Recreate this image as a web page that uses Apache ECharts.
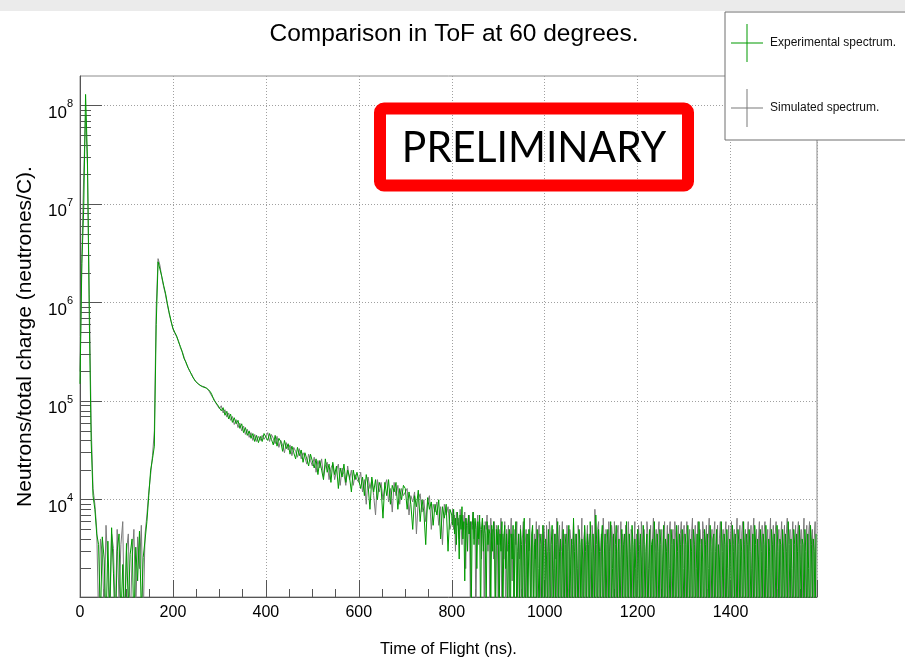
<!DOCTYPE html>
<html><head><meta charset="utf-8">
<script src="https://cdn.jsdelivr.net/npm/echarts@6/dist/echarts.min.js"></script>
<style>html,body{margin:0;padding:0;background:#fff}#c{width:905px;height:659px}</style>
</head><body><div id="c"></div>
<script>
// ---- data: time of flight (ns). Main part: 4 ns bins from 0; tail: 2 ns bins from 800 ----
const mainStart = 0, mainBin = 4, tailStart = 800, tailBin = 2;
const titleText = 'Comparison in ToF at 60 degrees.';
const xTitle = 'Time of Flight (ns).';
const yTitle = 'Neutrons/total charge (neutrones/C).';
const seriesNames = ['Experimental spectrum.', 'Simulated spectrum.'];
const xTickLabels = [0, 200, 400, 600, 800, 1000, 1200, 1400];
const yMajorTicks = [1e4, 1e5, 1e6, 1e7, 1e8];
const yMin = 1030, yMax = 2.0e8, xMin = 0, xMax = 1586;

const experimentalMain = [
1.5e5,2.5e6,9e6,1.3e8,3e7,7e5,4e4,1.1e4,8e3,4.5e3,3500,600,4200,2500,500,3800,700,5200,1800,400,3000,4500,600,2200,500,
3600,800,2800,4000,500,3300,1500,4800,700,2600,3900,6e3,1.1e4,2e4,2.6e4,3.5e4,6e5,2.6e6,2.5e6,1.85e6,1.5e6,1.25e6,9.8e5,7.9e5,6.5e5,
5.5e5,5.0e5,4.6e5,4.0e5,3.6e5,3.15e5,2.7e5,2.5e5,2.2e5,2.05e5,1.85e5,1.78e5,1.6e5,1.57e5,1.48e5,1.46e5,1.4e5,1.45e5,1.36e5,1.35e5,1.26e5,1.16e5,1.03e5,9.9e4,9.2e4,
9.5e4,8.0e4,8.6e4,7.2e4,7.9e4,6.6e4,7.4e4,6.1e4,6.8e4,5.9e4,6.4e4,5.3e4,5.9e4,4.8e4,5.4e4,4.5e4,5.0e4,4.2e4,4.7e4,3.9e4,4.5e4,3.8e4,4.4e4,3.9e4,4.7e4,
4.9e4,4.0e4,4.7e4,4.1e4,3.6e4,4.5e4,3.5e4,4.2e4,3.9e4,3.1e4,4.0e4,3.3e4,3.7e4,2.9e4,3.5e4,3.0e4,2.6e4,3.4e4,2.8e4,3.2e4,2.4e4,3.0e4,2.6e4,2.2e4,2.9e4,
2.8e4,2.1e4,2.6e4,1.8e4,2.5e4,2.0e4,1.6e4,2.6e4,1.9e4,2.3e4,1.5e4,2.4e4,1.8e4,2.2e4,1.3e4,2.1e4,1.7e4,2.3e4,1.5e4,2.0e4,1.7e4,1.2e4,2.0e4,1.6e4,1.9e4,
1.9e4,1.3e4,1.7e4,1.1e4,1.8e4,1.4e4,8e3,1.7e4,1.2e4,1.6e4,1.0e4,1.5e4,1.3e4,6.5e3,1.5e4,1.1e4,1.6e4,9e3,1.4e4,1.2e4,1.5e4,8e3,1.3e4,1.0e4,1.4e4,
1.3e4,8e3,1.2e4,9e3,5e3,1.1e4,8.5e3,1.25e4,6e3,1.0e4,7.5e3,3.5e3,1.05e4,8e3,9.5e3,5.5e3,9e3,7e3,1.0e4,4e3,8.5e3,6.5e3,9e3,3e3,8e3
];
const experimentalTail = [
7000,5500,8000,4500,6500,3500,7500,6000,2500,7000,5000,8500,4000,6000,1500,6500,5500,3000,7000,4500,6000,800,5500,7500,3500,6500,5000,2000,6000,4000,7000,600,5000,6500,3000,5500,4500,700,6000,3500,5000,4500,900,5500,3000,6000,4000,500,5000,3500,
5500,600,4500,3000,6000,500,4000,5500,2000,4500,600,3500,5000,400,4500,2500,5500,700,3800,6000,500,3000,4500,800,5000,3500,600,4000,6500,500,2500,4500,700,5000,3000,400,4500,5500,600,3500,4000,500,5000,2000,600,4500,3500,500,5500,3000,
500,4000,2500,600,5000,3000,400,3500,5500,700,2000,4500,500,3500,6000,600,3000,4000,500,2500,5000,700,3500,4500,400,3000,5500,600,2500,4000,500,6500,3000,700,4500,2000,500,5000,3500,600,4000,2500,400,5500,3000,700,4500,3500,500,6000,
3000,500,4500,2500,600,7000,3500,400,5000,3000,700,4000,5500,500,2500,4500,600,3500,5000,400,3000,6000,700,2000,4500,500,3500,5500,600,3000,4000,500,2500,5000,700,3500,4500,400,6000,2500,600,4500,3000,500,5500,3500,700,4000,2000,500,
5000,3000,600,4500,2500,400,5500,3500,700,3000,4500,500,2000,5000,600,3500,4000,400,6000,2500,700,4500,3000,500,5000,3500,600,2500,5500,400,4000,3000,700,4500,2000,500,5000,3500,600,4000,2500,500,5500,3000,700,4500,3500,400,5000,2000,
600,4500,3500,500,5500,2500,700,4000,3000,400,5000,3500,600,2000,4500,500,6000,3000,700,4000,2500,500,5000,3500,600,4500,2000,400,5500,3000,700,4000,4500,500,3000,5000,600,3500,2500,500,6000,3000,700,4500,3500,400,5000,2000,600,4000,
3500,500,5500,3000,700,4500,2500,400,5000,3500,600,4000,3000,500,6000,2500,700,4500,3500,400,5000,3000,600,2000,4500,500,5500,3500,700,4000,2500,500,5000,3000,600,4500,3500,400,5500,2000,700,4000,3000,500,5000,3500,600,4500,2500,500,
5500,3000,700,4000,3500,400,5000,2500,600,4500,3000,500,6000,3500,700,4000,2000,500,5000,3500,600,4500,3000,400,5500,2500,700,4000,3500,500,5000,3000,600,4500,2000,500,5500,3500,700,4000,3000,500,4500
];

const simulatedMain = [
2e5,3e6,2e7,8e7,2.5e7,1.2e6,6e4,1.3e4,9e3,5e3,600,4000,2800,700,5500,2000,500,4500,3200,600,5000,900,3500,6000,400,
3000,4500,500,2500,5000,700,4200,2000,5500,600,4500,7e3,1.2e4,1.8e4,2.8e4,5e4,9e5,2.8e6,2.4e6,1.8e6,1.45e6,1.2e6,9.5e5,7.7e5,6.4e5,
5.4e5,4.9e5,4.5e5,4.1e5,3.5e5,3.2e5,2.8e5,2.45e5,2.25e5,2.0e5,1.9e5,1.72e5,1.65e5,1.53e5,1.5e5,1.43e5,1.44e5,1.4e5,1.38e5,1.31e5,1.28e5,1.12e5,1.06e5,9.6e4,9.4e4,
8.4e4,9.0e4,7.6e4,8.2e4,6.9e4,7.6e4,6.4e4,7.0e4,5.8e4,6.5e4,5.4e4,6.0e4,5.0e4,5.6e4,4.6e4,5.2e4,4.3e4,4.8e4,4.0e4,4.6e4,3.9e4,4.4e4,4.0e4,4.5e4,4.1e4,
4.4e4,4.8e4,3.9e4,4.6e4,4.2e4,3.7e4,4.4e4,3.4e4,4.0e4,3.6e4,3.0e4,3.8e4,3.2e4,3.6e4,2.8e4,3.4e4,3.1e4,2.7e4,3.3e4,2.6e4,3.0e4,2.7e4,2.3e4,2.9e4,2.5e4,
2.2e4,2.7e4,1.9e4,2.5e4,2.1e4,2.6e4,1.7e4,2.2e4,2.4e4,1.6e4,2.1e4,2.3e4,1.6e4,2.0e4,2.3e4,1.4e4,2.1e4,1.8e4,1.4e4,2.2e4,1.6e4,2.0e4,1.4e4,1.8e4,1.6e4,
1.5e4,1.9e4,1.2e4,1.6e4,9e3,1.7e4,1.3e4,1.6e4,1.1e4,7e3,1.6e4,1.2e4,1.5e4,1.0e4,1.4e4,1.6e4,9.5e3,1.3e4,7.5e3,1.5e4,1.1e4,1.4e4,9e3,1.3e4,1.1e4,
1.1e4,1.3e4,7e3,1.1e4,9.5e3,1.2e4,4.5e3,1.0e4,1.15e4,7.5e3,1.0e4,6e3,9.5e3,1.1e4,5e3,9e3,7.5e3,9.5e3,5.5e3,8.5e3,3.5e3,9e3,7e3,8.5e3,5e3
];
const simulatedTail = [
6000,8000,5000,7000,3000,7500,5500,6500,4000,8000,6000,3500,7000,5000,7500,2000,6500,5500,4500,7000,1000,6000,5000,7500,4000,6000,600,5500,7000,3500,6000,5000,2500,6500,4500,700,6000,5000,7000,3000,5500,600,6500,4000,5000,2500,6000,700,5500,4500,
700,5000,3500,6500,500,4500,2500,6000,600,5000,3000,5500,500,4000,6500,1500,4500,500,5000,3500,6000,700,4500,2500,5500,500,4000,6000,700,3500,5000,500,4500,3000,6500,600,3500,5000,500,4500,2500,6000,700,4000,5500,500,3000,4500,600,5500,
4000,700,5500,3000,500,6000,4500,600,3500,5000,500,4500,2500,6500,700,4000,5500,500,3000,6000,600,4500,3500,500,5500,2500,700,5000,4000,500,3500,6000,600,4500,3000,500,5500,4000,700,3000,6500,500,4000,5000,600,3500,5500,500,4500,2500,
600,5500,4000,500,8000,3500,700,5000,6000,500,3000,4500,600,6500,3500,500,5000,4000,700,6000,2500,500,5500,4000,600,6000,3000,500,4500,5500,700,3500,6000,500,4500,3000,600,5500,4000,500,6000,3500,700,5000,4500,500,3000,6000,600,4500,
700,5500,3500,500,6000,4000,600,5000,3000,500,6000,4500,700,3500,5500,500,4000,6500,600,3000,5000,500,4500,6000,700,3500,5000,500,4000,6000,600,3000,5500,500,4500,6000,700,3500,5000,500,6000,4000,600,3000,5500,500,4500,6000,700,3500,
5500,500,4000,6000,700,3500,5000,500,4500,6500,600,3000,5500,500,4000,6000,700,5000,3500,500,6000,4500,600,3000,5500,500,4000,6500,700,3500,5000,500,4500,6000,600,3500,5500,500,4000,6000,700,3000,5000,500,4500,6000,600,3500,5500,500,
4500,6000,700,3500,5000,500,4000,6500,600,3000,5500,500,4500,6000,700,3500,5000,500,4000,6000,600,3000,5500,500,4500,6500,700,3500,5000,500,4000,6000,600,3000,5500,500,4500,6000,700,3500,5000,500,4000,6500,600,3000,5500,500,4500,6000,
700,3500,5000,500,4000,6000,600,3000,5500,500,4500,6500,700,3500,5000,500,4000,6000,600,3000,5500,500,4500,6000,700,3500,5000,500,4000,6500,600,3000,5500,500,4500,6000,700,3500,5000,500,4000,6000,600
];

// minor tick positions of the log axis (2..9 x 10^n)
const yMinorTicks = [];
for (let d = 3; d <= 8; d++) for (let k = 2; k <= 9; k++) { const v = k * Math.pow(10, d); if (v > yMin && v < yMax) yMinorTicks.push(v); }

const FONT = '"Liberation Sans", Arial, Helvetica, sans-serif';
const GREEN = '#009a00', GRAY = '#7a7a7a';
const toPts = (main, tail) => main.map((v, i) => [mainStart + i * mainBin, v])
  .concat(tail.map((v, j) => [tailStart + j * tailBin, v]));
const crossIcon = 'path://M0,18.5h32v1h-32z M15.5,0h1v38h-1z';

const chart = echarts.init(document.getElementById('c'), null, { renderer: 'canvas' });
chart.setOption({
  animation: false,
  backgroundColor: '#ffffff',
  title: { text: titleText, left: 449, top: 17, textAlign: 'center',
    textStyle: { fontFamily: FONT, fontSize: 24.5, fontWeight: 'normal', color: '#000' } },
  legend: {
    orient: 'vertical', left: 725, top: 12, padding: [12, 40, 13, 6],
    itemWidth: 32, itemHeight: 38, itemGap: 27, icon: crossIcon,
    backgroundColor: '#ffffff', borderColor: '#6e6e6e', borderWidth: 1, borderRadius: 0,
    selectedMode: false, z: 20,
    textStyle: { fontFamily: FONT, fontSize: 12, color: '#111', padding: [0, 0, 0, 2] },
    data: seriesNames
  },
  grid: { left: 80, right: 88, top: 76, bottom: 62, show: true, borderColor: '#8c8c8c', borderWidth: 1, outerBoundsMode: 'none' },
  xAxis: {
    type: 'value', min: xMin, max: xMax, interval: 200,
    name: xTitle, nameLocation: 'middle', nameGap: 44,
    nameTextStyle: { fontFamily: FONT, fontSize: 16.5, color: '#000' },
    axisLine: { show: true, onZero: false, lineStyle: { color: '#555' } },
    axisTick: { show: true, inside: true, length: 17, lineStyle: { color: '#555' } },
    minorTick: { show: true, splitNumber: 4, length: 8, lineStyle: { color: '#555' } },
    axisLabel: { fontFamily: FONT, fontSize: 16, color: '#000', margin: 8, showMaxLabel: false,
      formatter: v => xTickLabels.indexOf(v) >= 0 ? String(v) : '' },
    splitLine: { show: true, lineStyle: { color: '#a0a0a0', type: [1, 2] } }
  },
  yAxis: [{
    type: 'log', logBase: 10, min: yMin, max: yMax, position: 'left',
    name: yTitle, nameLocation: 'middle', nameGap: 44, nameRotate: 90,
    nameTextStyle: { fontFamily: FONT, fontSize: 21, color: '#000' },
    axisLine: { show: true, onZero: false, lineStyle: { color: '#555' } },
    axisTick: { show: true, inside: true, length: 22, customValues: yMajorTicks, lineStyle: { color: '#555' } },
    minorTick: { show: false },
    axisLabel: { customValues: yMajorTicks, margin: 7, padding: [0, 0, 11, 0],
      formatter: v => '{b|10}{s|' + Math.round(Math.log10(v)) + '}',
      rich: {
        b: { fontFamily: FONT, fontSize: 17, color: '#000', lineHeight: 17, padding: [13, 0, 0, 0], verticalAlign: 'top' },
        s: { fontFamily: FONT, fontSize: 11, color: '#000', lineHeight: 12, padding: [7, 0, 0, 0], verticalAlign: 'top' }
      } },
    splitLine: { show: true, lineStyle: { color: '#a0a0a0', type: [1, 2] } }
  }, {
    type: 'log', logBase: 10, min: yMin, max: yMax, position: 'left', offset: 0,
    axisLine: { show: false },
    axisTick: { show: true, inside: true, length: 11, customValues: yMinorTicks, lineStyle: { color: '#555' } },
    axisLabel: { show: false }, splitLine: { show: false }, minorTick: { show: false }
  }],
  series: [{
    type: 'line', name: seriesNames[1], data: toPts(simulatedMain, simulatedTail), yAxisIndex: 0,
    symbol: 'none', showSymbol: false, clip: true, silent: true, z: 2,
    color: GRAY, lineStyle: { color: GRAY, width: 1 }, itemStyle: { color: GRAY }
  }, {
    type: 'line', name: seriesNames[0], data: toPts(experimentalMain, experimentalTail), yAxisIndex: 0,
    symbol: 'none', showSymbol: false, clip: true, silent: true, z: 3,
    color: GREEN, lineStyle: { color: GREEN, width: 1 }, itemStyle: { color: GREEN }
  }],
  graphic: [
    { type: 'rect', shape: { x: 0, y: 0, width: 905, height: 11 }, style: { fill: '#ebebeb' }, z: -10, silent: true },
    { type: 'rect', shape: { x: 380, y: 108.5, width: 308, height: 77, r: 4 }, style: { fill: 'none', stroke: '#ff0000', lineWidth: 12 }, z: 100, silent: true },
    { type: 'text', x: 534, y: 148, scaleX: 0.95, z: 101, silent: true,
      style: { text: 'PRELIMINARY', fontFamily: 'Lato, "Open Sans", sans-serif', fontSize: 43, fill: '#000', align: 'center', verticalAlign: 'middle' } }
  ]
});
</script>
</body></html>
